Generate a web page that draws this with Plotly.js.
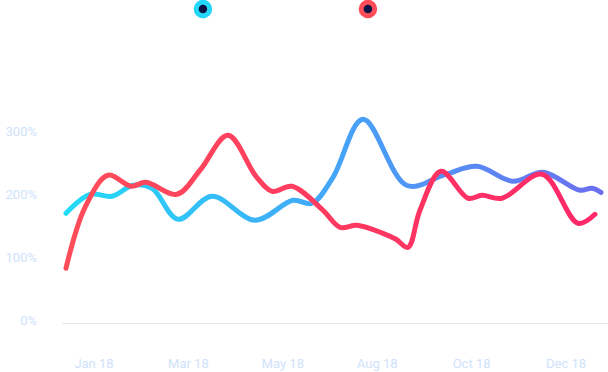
<!DOCTYPE html>
<html>
<head>
<meta charset="utf-8">
<script src="https://cdn.plot.ly/plotly-3.0.1.min.js"></script>
<style>
html,body{margin:0;padding:0;background:#fff;}
#chart{width:608px;height:372px;}
</style>
</head>
<body>
<div id="chart"></div>
<script>
// Tick labels (category positions 0..5 on the x axis)
const tickLabels = ['Jan 18', 'Mar 18', 'May 18', 'Aug 18', 'Oct 18', 'Dec 18'];
const tickPositions = [0, 1, 2, 3, 4, 5];
const yTicks = [0, 100, 200, 300];
const yTickLabels = ['0%', '100%', '200%', '300%'];

// Series A (blue) - x in label units, y in %
const blueX = [-0.297, -0.042, 0.191, 0.413, 0.614, 0.890, 1.250, 1.706, 2.108, 2.309, 2.532, 2.850, 3.316, 3.718, 4.057, 4.439, 4.756, 5.148, 5.275, 5.371];
const blueY = [170.4, 200.6, 197.5, 215.0, 210.2, 160.8, 197.5, 159.2, 191.1, 186.3, 227.7, 320.1, 214.6, 232.0, 245.2, 221.3, 235.7, 207.0, 210.2, 203.8];

// Series B (red)
const redX = [-0.297, -0.095, 0.148, 0.392, 0.551, 0.879, 1.123, 1.419, 1.716, 1.886, 2.097, 2.426, 2.606, 2.786, 3.061, 3.199, 3.326, 3.453, 3.676, 3.962, 4.110, 4.322, 4.746, 5.127, 5.307];
const redY = [82.8, 179.9, 230.9, 213.4, 219.7, 200.6, 238.9, 294.6, 229.3, 205.4, 213.4, 175.2, 148.1, 151.3, 138.5, 129.0, 116.2, 175.2, 237.3, 194.3, 199.0, 194.3, 232.5, 154.5, 168.8];

const blueStops = ['#22dbf7', '#45a5f8', '#6b6ff0'];
const redStops = ['#ff4d5a', '#ff3a60', '#ff2869'];

const labelColor = '#cfe2fb';

const traces = [
  {x: blueX, y: blueY, type: 'scatter', mode: 'lines', showlegend: false,
   line: {shape: 'spline', smoothing: 1, width: 5, color: '#45a5f8'}, hoverinfo: 'skip'},
  {x: redX, y: redY, type: 'scatter', mode: 'lines', showlegend: false,
   line: {shape: 'spline', smoothing: 1, width: 5, color: '#ff3a60'}, hoverinfo: 'skip'},
  {x: [null], y: [null], type: 'scatter', mode: 'markers', name: ' ', showlegend: true,
   marker: {size: 13.5, color: '#0b1442', line: {width: 5, color: '#22d7f8'}}},
  {x: [null], y: [null], type: 'scatter', mode: 'markers', name: ' ', showlegend: true,
   marker: {size: 13.5, color: '#0b1442', line: {width: 5, color: '#ff4d5a'}}}
];

const layout = {
  width: 608, height: 372,
  margin: {l: 62, r: 0, t: 40, b: 49, pad: 0},
  paper_bgcolor: '#ffffff', plot_bgcolor: '#ffffff',
  font: {family: 'Roboto, sans-serif', size: 13, color: labelColor},
  showlegend: true,
  legend: {orientation: 'h', x: 0.2215, xanchor: 'left', y: 0.9758, yref: 'container', yanchor: 'middle',
           entrywidth: 120, entrywidthmode: 'pixels', itemsizing: 'trace',
           bgcolor: 'rgba(0,0,0,0)', font: {size: 13, color: labelColor}},
  xaxis: {range: [-0.339, 5.445], tickvals: tickPositions, ticktext: tickLabels,
          showgrid: false, zeroline: false, showline: true, linecolor: '#e4e8ee', linewidth: 1,
          ticks: '', ticklabelstandoff: 28, tickfont: {size: 13, color: labelColor}, fixedrange: true},
  yaxis: {range: [-4.3, 446.3], tickvals: yTicks, ticktext: yTickLabels,
          showgrid: false, zeroline: false, showline: false,
          ticks: '', ticklabelstandoff: 24, tickfont: {size: 13, color: labelColor}, fixedrange: true}
};

function applyGradients(gd) {
  const svg = gd.querySelector('svg.main-svg');
  const ns = 'http://www.w3.org/2000/svg';
  let defs = svg.querySelector('defs');
  if (!defs) { defs = document.createElementNS(ns, 'defs'); svg.insertBefore(defs, svg.firstChild); }
  function makeGrad(id, stops) {
    const g = document.createElementNS(ns, 'linearGradient');
    g.setAttribute('id', id);
    g.setAttribute('x1', '0'); g.setAttribute('y1', '0');
    g.setAttribute('x2', '1'); g.setAttribute('y2', '0');
    stops.forEach((c, i) => {
      const s = document.createElementNS(ns, 'stop');
      s.setAttribute('offset', (i / (stops.length - 1)).toString());
      s.setAttribute('stop-color', c);
      g.appendChild(s);
    });
    defs.appendChild(g);
  }
  makeGrad('gradBlue', blueStops);
  makeGrad('gradRed', redStops);
  const traceGroups = gd.querySelectorAll('.scatterlayer .trace');
  const ids = ['gradBlue', 'gradRed'];
  traceGroups.forEach((tg, i) => {
    if (i < 2) {
      const p = tg.querySelector('path.js-line');
      if (p) { p.style.stroke = 'url(#' + ids[i] + ')'; p.style.strokeLinecap = 'round'; }
    }
  });
}

Plotly.newPlot('chart', traces, layout, {displayModeBar: false, staticPlot: true}).then(applyGradients);
</script>
</body>
</html>
